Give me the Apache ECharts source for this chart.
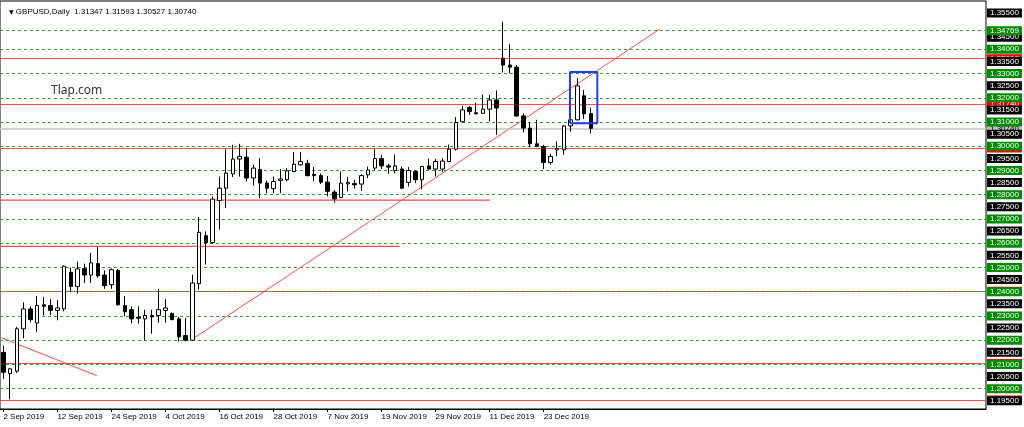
<!DOCTYPE html>
<html>
<head>
<meta charset="utf-8">
<title>GBPUSD Daily</title>
<script src="https://cdn.jsdelivr.net/npm/echarts@6/dist/echarts.min.js"></script>
<style>
html, body { margin: 0; padding: 0; background: #fff; }
#main { width: 1024px; height: 427px; }
</style>
</head>
<body>
<div id="main"></div>
<script>
// daily bars
var dates = [
  '2019.09.02','2019.09.03','2019.09.04','2019.09.05','2019.09.06','2019.09.09','2019.09.10','2019.09.11','2019.09.12','2019.09.13',
  '2019.09.16','2019.09.17','2019.09.18','2019.09.19','2019.09.20','2019.09.23','2019.09.24','2019.09.25','2019.09.26','2019.09.27',
  '2019.09.30','2019.10.01','2019.10.02','2019.10.03','2019.10.04','2019.10.07','2019.10.08','2019.10.09','2019.10.10','2019.10.11',
  '2019.10.14','2019.10.15','2019.10.16','2019.10.17','2019.10.18','2019.10.21','2019.10.22','2019.10.23','2019.10.24','2019.10.25',
  '2019.10.28','2019.10.29','2019.10.30','2019.10.31','2019.11.01','2019.11.04','2019.11.05','2019.11.06','2019.11.07','2019.11.08',
  '2019.11.11','2019.11.12','2019.11.13','2019.11.14','2019.11.15','2019.11.18','2019.11.19','2019.11.20','2019.11.21','2019.11.22',
  '2019.11.25','2019.11.26','2019.11.27','2019.11.28','2019.11.29','2019.12.02','2019.12.03','2019.12.04','2019.12.05','2019.12.06',
  '2019.12.09','2019.12.10','2019.12.11','2019.12.12','2019.12.13','2019.12.16','2019.12.17','2019.12.18','2019.12.19','2019.12.20',
  '2019.12.23','2019.12.24','2019.12.26','2019.12.27','2019.12.30','2019.12.31','2020.01.02','2020.01.03'
];
var opens = [
  1.2150,1.2063,1.2072,1.2247,1.2329,1.2271,1.2346,1.2343,1.2323,1.2329,
  1.2480,1.2422,1.2496,1.2469,1.2516,1.2469,1.2429,1.2488,1.2343,1.2326,
  1.2295,1.2288,1.2302,1.2302,1.2323,1.2310,1.2288,1.2219,1.2200,1.2433,
  1.2631,1.2603,1.2776,1.2827,1.2886,1.2947,1.2955,1.2869,1.2904,1.2848,
  1.2825,1.2859,1.2862,1.2896,1.2923,1.2929,1.2884,1.2879,1.2852,1.2811,
  1.2789,1.2845,1.2846,1.2844,1.2882,1.2910,1.2949,1.2919,1.2900,1.2906,
  1.2851,1.2896,1.2862,1.2919,1.2906,1.2906,1.2937,1.2988,1.3101,1.3160,
  1.3138,1.3136,1.3153,1.3191,1.3363,1.3335,1.3326,1.3125,1.3075,1.3010,
  1.2999,1.2933,1.2985,1.2985,1.3084,1.3109,1.3208,1.31347
];
var highs = [
  1.2178,1.2086,1.2255,1.2356,1.2340,1.2381,1.2379,1.2370,1.2365,1.2508,
  1.2499,1.2524,1.2516,1.2560,1.2584,1.2488,1.2496,1.2494,1.2381,1.2340,
  1.2340,1.2326,1.2326,1.2412,1.2370,1.2315,1.2296,1.2292,1.2470,1.2708,
  1.2649,1.2793,1.2875,1.2988,1.3006,1.3010,1.2992,1.2923,1.2951,1.2858,
  1.2875,1.2906,1.2910,1.2976,1.2976,1.2944,1.2915,1.2888,1.2877,1.2819,
  1.2896,1.2874,1.2862,1.2885,1.2916,1.2988,1.2965,1.2928,1.2966,1.2917,
  1.2914,1.2900,1.2919,1.2949,1.2947,1.2951,1.3007,1.3120,1.3166,1.3166,
  1.3180,1.3213,1.3212,1.3230,1.3514,1.3421,1.3335,1.3136,1.3098,1.3109,
  1.3006,1.2969,1.3020,1.3088,1.3150,1.3281,1.3232,1.31593
];
var lows = [
  1.2040,1.1956,1.2065,1.2208,1.2274,1.2233,1.2302,1.2304,1.2282,1.2319,
  1.2400,1.2392,1.2436,1.2436,1.2457,1.2412,1.2412,1.2343,1.2299,1.2269,
  1.2269,1.2200,1.2227,1.2272,1.2272,1.2282,1.2195,1.2195,1.2200,1.2409,
  1.2512,1.2598,1.2656,1.2745,1.2873,1.2875,1.2855,1.2838,1.2786,1.2807,
  1.2807,1.2807,1.2855,1.2893,1.2921,1.2875,1.2855,1.2844,1.2793,1.2767,
  1.2786,1.2814,1.2825,1.2816,1.2869,1.2900,1.2906,1.2886,1.2889,1.2823,
  1.2834,1.2848,1.2823,1.2903,1.2875,1.2895,1.2936,1.2982,1.3099,1.3129,
  1.3131,1.3134,1.3102,1.3047,1.3304,1.3301,1.3122,1.3057,1.2996,1.2996,
  1.2906,1.2924,1.2958,1.2965,1.3061,1.3106,1.3112,1.30527
];
var closes = [
  1.2068,1.2082,1.2247,1.2329,1.2285,1.2343,1.2340,1.2323,1.2333,1.2505,
  1.2422,1.2494,1.2469,1.2519,1.2466,1.2425,1.2491,1.2346,1.2318,1.2288,
  1.2291,1.2302,1.2296,1.2326,1.2333,1.2285,1.2214,1.2200,1.2436,1.2645,
  1.2603,1.2782,1.2827,1.2889,1.2947,1.2958,1.2869,1.2910,1.2848,1.2827,
  1.2855,1.2865,1.2899,1.2926,1.2937,1.2879,1.2879,1.2852,1.2814,1.2783,
  1.2848,1.2851,1.2841,1.2879,1.2902,1.2949,1.2919,1.2914,1.2919,1.2827,
  1.2900,1.2862,1.2917,1.2906,1.2937,1.2939,1.2988,1.3098,1.3150,1.3143,
  1.3134,1.3153,1.3191,1.3158,1.3335,1.3326,1.3125,1.3075,1.3010,1.2999,
  1.2933,1.2958,1.2991,1.3084,1.3109,1.3249,1.3134,1.30740
];

// time scale labels (every 8th bar)
var tickLabels = ['2 Sep 2019','12 Sep 2019','24 Sep 2019','4 Oct 2019','16 Oct 2019','28 Oct 2019',
  '7 Nov 2019','19 Nov 2019','29 Nov 2019','11 Dec 2019','23 Dec 2019'];
var emptyBars = 58; // free space right of the last bar

// price scale labels and drawn levels
var scaleLabels = [1.355,1.345,1.335,1.325,1.315,1.305,1.295,1.285,1.275,1.265,1.255,1.245,1.235,1.225,1.215,1.205,1.195];
var greenLevels = [1.34769,1.34,1.33,1.32,1.31,1.30,1.29,1.28,1.27,1.26,1.25,1.24,1.23,1.22,1.21,1.20];
var redLevels = [1.3361,1.3174,1.2993,1.2402,1.2104,1.1953];
var redShortLevels = [1.2778, 1.2587];
var redShortEnds = [72.06, 58.7]; // bar index where they stop
var trendDown = [[-0.25, 1.2210], [13.82, 1.2054]];
var trendUp = [[27.9, 1.2203], [97.23, 1.3484]];
var boxBars = [83.9, 87.95];
var boxPrices = [1.3095, 1.3306];

var months = ['Jan','Feb','Mar','Apr','May','Jun','Jul','Aug','Sep','Oct','Nov','Dec'];
function dayLabel(d) {
  if (!d) return '';
  var p = d.split('.');
  return parseInt(p[2], 10) + ' ' + months[parseInt(p[1], 10) - 1] + ' ' + p[0];
}
function showTick(idx, value) {
  return tickLabels.indexOf(dayLabel(value)) >= 0;
}

var cats = dates.slice();
for (var k = 0; k < emptyBars; k++) cats.push('');

var candles = [];
for (var i = 0; i < dates.length; i++) {
  candles.push([opens[i], closes[i], lows[i], highs[i]]);
}
var last = dates.length - 1;

var labelFont = { fontSize: 8, fontFamily: 'Liberation Sans', lineHeight: 9, padding: [0, 3, 0, 3] };
function boxLabel(bg, fg) {
  return Object.assign({
    show: true, position: 'end', distance: 1,
    backgroundColor: bg, color: fg,
    formatter: function (p) { return Number(p.value).toFixed(5); }
  }, labelFont);
}
// horizontal levels over the whole width, with their price box on the scale
function levels(values, lineStyle, label, z) {
  return {
    type: 'line', xAxisIndex: 1, yAxisIndex: 0, data: [], z: z,
    markLine: {
      silent: true, symbol: 'none', animation: false, precision: 5,
      data: values.map(function (v) { return { yAxis: v }; }),
      lineStyle: lineStyle, label: label
    }
  };
}
function segment(pts, color, width, z) {
  return {
    type: 'line', xAxisIndex: 1, yAxisIndex: 0, data: pts, z: z,
    symbol: 'none', silent: true,
    lineStyle: { color: color, width: width }
  };
}

var chart = echarts.init(document.getElementById('main'), null, { renderer: 'canvas' });

var series = [];
series.push(levels(redLevels, { color: '#ff4a4a', width: 1.2, type: 'solid' }, boxLabel('#ff0000', '#fff'), 2));
series.push(levels([closes[last]], { color: '#c4c4c4', width: 1.5, type: 'solid' }, boxLabel('#c0c0c0', '#000'), 2));
// plain scale labels: no line, only the black box
series.push(levels(scaleLabels, { color: 'rgba(0,0,0,0)', width: 0 }, boxLabel('#000', '#fff'), 3));
series.push(levels(greenLevels, { color: '#2f9f2f', width: 1, type: [3, 3] }, boxLabel('#008a00', '#fff'), 4));

// short red levels and trend lines
for (var j = 0; j < redShortLevels.length; j++) {
  series.push(segment([[-0.5, redShortLevels[j]], [redShortEnds[j], redShortLevels[j]]], '#ff4a4a', 1.2, 2));
}
series.push(segment(trendDown, '#ff4a4a', 1, 2));
series.push(segment(trendUp, '#ff4a4a', 1, 2));

// candles
series.push({
  type: 'candlestick', xAxisIndex: 0, yAxisIndex: 0, data: candles, z: 5,
  barWidth: 4, silent: true,
  itemStyle: {
    color: '#fff', color0: '#000',
    borderColor: '#000', borderColor0: '#000', borderColorDoji: '#000',
    borderWidth: 1
  }
});

// blue box round the last bars
series.push(segment([
  [boxBars[0], boxPrices[0]], [boxBars[1], boxPrices[0]],
  [boxBars[1], boxPrices[1]], [boxBars[0], boxPrices[1]],
  [boxBars[0], boxPrices[0]]
], '#1f3dff', 2, 6));

var header = 'GBPUSD,Daily  ' + [opens[last], highs[last], lows[last], closes[last]]
  .map(function (v) { return v.toFixed(5); }).join(' ');

var option = {
  animation: false,
  backgroundColor: '#fff',
  title: {
    text: '{tri|▼} ' + header,
    left: 4, top: 3,
    textStyle: {
      fontSize: 8, fontWeight: 'normal', color: '#000', fontFamily: 'Liberation Sans',
      rich: { tri: { fontSize: 6, color: '#000', fontFamily: 'DejaVu Sans' } }
    }
  },
  graphic: [{
    type: 'text', left: 51, top: 85, z: 10,
    style: { text: 'Tlap.com', font: '12px "Noto Sans"', fill: '#333' }
  }],
  grid: {
    left: 0, right: 38, top: 1, bottom: 18,
    show: true, borderColor: '#000', borderWidth: 1, backgroundColor: '#fff'
  },
  xAxis: [{
    type: 'category', data: cats, boundaryGap: true,
    axisLine: { lineStyle: { color: '#000', width: 1 } },
    axisTick: { show: true, alignWithLabel: true, interval: showTick, length: 3, lineStyle: { color: '#000' } },
    axisLabel: {
      interval: showTick, formatter: dayLabel, align: 'left', margin: 4,
      fontSize: 8, fontFamily: 'Liberation Sans', color: '#000'
    },
    splitLine: { show: false }
  }, {
    type: 'value', min: -0.5, max: cats.length - 0.5, show: false
  }],
  yAxis: {
    type: 'value', min: 1.19163, max: 1.35991,
    axisLine: { show: false }, axisTick: { show: false },
    axisLabel: { show: false }, splitLine: { show: false }
  },
  series: series
};

chart.setOption(option);
</script>
</body>
</html>
